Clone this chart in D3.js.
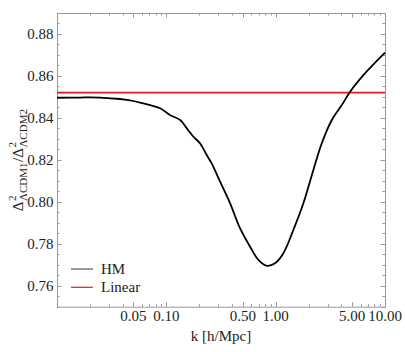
<!DOCTYPE html>
<html>
<head>
<meta charset="utf-8">
<script src="https://cdn.jsdelivr.net/npm/d3@7"></script>
<style>
  body { margin: 0; background: #fff; }
</style>
</head>
<body>
<div id="chart"></div>
<script>
// data
const kHM = [0.01, 0.0162, 0.0200, 0.0247, 0.0377, 0.0466, 0.0575, 0.0709, 0.0876, 0.108, 0.134, 0.154, 0.177, 0.203, 0.234, 0.260, 0.310, 0.383, 0.472, 0.583, 0.695, 0.829, 0.987, 1.176, 1.452, 1.792, 2.213, 2.641, 3.261, 4.026, 4.795, 6.345, 10];
const ratioHM = [0.8496, 0.8497, 0.8498, 0.8497, 0.8490, 0.8483, 0.8473, 0.8461, 0.8446, 0.8414, 0.8390, 0.8350, 0.8310, 0.8279, 0.8223, 0.8183, 0.8096, 0.7993, 0.7874, 0.7786, 0.7723, 0.7695, 0.7707, 0.7755, 0.7866, 0.7993, 0.8152, 0.8279, 0.8390, 0.8461, 0.8525, 0.8604, 0.8711];
const kLin = [0.01, 10];
const ratioLin = [0.852, 0.852];

const xMajor = [0.01, 0.05, 0.1, 0.5, 1, 5, 10];
const xLabels = ["", "0.05", "0.10", "0.50", "1.00", "5.00", "10.00"];
const yMajor = [0.76, 0.78, 0.80, 0.82, 0.84, 0.86, 0.88];
const yLabels = ["0.76", "0.78", "0.80", "0.82", "0.84", "0.86", "0.88"];

const seriesNames = ["HM", "Linear"];
const seriesColors = ["#000", "#e8161a"];

const serif = "'Liberation Serif', 'Times New Roman', serif";
const width = 405, height = 352;
const margin = {top: 13, right: 20, bottom: 45.3, left: 57};

var svg = d3.select("#chart").append("svg")
    .attr("width", width)
    .attr("height", height)
    .style("font-family", serif)
    .style("fill", "#222");

var x = d3.scaleLog().domain([0.01, 10]).range([margin.left, width - margin.right]);
var y = d3.scaleLinear().domain([0.75, 0.89]).range([height - margin.bottom, margin.top]);

// minor ticks
var xMinor = [];
[0.01, 0.1, 1].forEach(d => {
  for (let i = 2; i <= 9; i++) xMinor.push(+(d * i).toPrecision(3));
});
xMinor = xMinor.filter(d => xMajor.indexOf(d) < 0);
var yMinor = d3.range(0.75, 0.8901, 0.005).map(d => +d.toFixed(3)).filter(d => yMajor.indexOf(d) < 0);

var tickColor = "#999";
var x0 = x.range()[0], x1 = x.range()[1];
var y0 = y.range()[0], y1 = y.range()[1];

var ticks = svg.append("g").attr("stroke", tickColor).attr("stroke-width", 1);
function vTicks(vals, len) {
  vals.forEach(v => {
    let px = Math.round(x(v)) + 0.5;
    ticks.append("line").attr("x1", px).attr("x2", px).attr("y1", y0).attr("y2", y0 - len);
    ticks.append("line").attr("x1", px).attr("x2", px).attr("y1", y1).attr("y2", y1 + len);
  });
}
function hTicks(vals, len) {
  vals.forEach(v => {
    let py = Math.round(y(v)) + 0.5;
    ticks.append("line").attr("y1", py).attr("y2", py).attr("x1", x0).attr("x2", x0 + len);
    ticks.append("line").attr("y1", py).attr("y2", py).attr("x1", x1).attr("x2", x1 - len);
  });
}
vTicks(xMajor, 4.5);
vTicks(xMinor, 2.5);
hTicks(yMajor, 4.5);
hTicks(yMinor, 2.5);

// frame
svg.append("rect")
  .attr("x", x0 + 0.5).attr("y", y1 + 0.5)
  .attr("width", x1 - x0).attr("height", y0 - y1)
  .attr("fill", "none").attr("stroke", tickColor);

// tick labels
svg.append("g").selectAll("text").data(xMajor).join("text")
  .attr("x", d => x(d)).attr("y", 321)
  .attr("text-anchor", "middle").attr("font-size", 15)
  .text((d, i) => xLabels[i]);

svg.append("g").selectAll("text").data(yMajor).join("text")
  .attr("x", 53.5).attr("y", d => y(d)).attr("dy", "0.33em")
  .attr("text-anchor", "end").attr("font-size", 15)
  .text((d, i) => yLabels[i]);

// axis titles
svg.append("text")
  .attr("x", (x0 + x1) / 2).attr("y", 341)
  .attr("text-anchor", "middle").attr("font-size", 15)
  .text("k [h/Mpc]");

// y title: Δ^2_ΛCDM1 / Δ^2_ΛCDM2, built piece by piece
var yt = svg.append("g");
var pos = 0;
function piece(str, size, dy) {
  let t = yt.append("text").attr("x", pos).attr("y", dy).attr("font-size", size).text(str);
  return t.node().getComputedTextLength();
}
function delta(sub) {
  pos += piece("\u0394", 15, 0) + 0.5;
  let w1 = piece(sub, 11, 3.5);
  let w2 = piece("2", 11, -7.5);
  pos += Math.max(w1, w2) + 0.5;
}
delta("\u039BCDM1");
pos += piece("/", 15, 0);
delta("\u039BCDM2");
yt.attr("transform", `translate(23,${(y0 + y1) / 2 + pos / 2}) rotate(-90)`);

// lines
var line = d3.line().x(d => x(d[0])).y(d => y(d[1])).curve(d3.curveCatmullRom.alpha(0.5));

svg.append("path")
  .datum(d3.zip(kLin, ratioLin))
  .attr("d", line)
  .attr("fill", "none").attr("stroke", seriesColors[1]).attr("stroke-width", 1.8);

svg.append("path")
  .datum(d3.zip(kHM, ratioHM))
  .attr("d", line)
  .attr("fill", "none").attr("stroke", seriesColors[0]).attr("stroke-width", 1.8);

// legend
var leg = svg.append("g");
seriesNames.forEach((name, i) => {
  let ly = 269 + i * 18.3;
  leg.append("line").attr("x1", 71).attr("x2", 93).attr("y1", ly).attr("y2", ly)
    .attr("stroke", i == 0 ? "#555" : seriesColors[1]).attr("stroke-width", 1.2);
  leg.append("text").attr("x", 101).attr("y", ly + 5).attr("font-size", 15).text(name);
});
</script>
</body>
</html>
